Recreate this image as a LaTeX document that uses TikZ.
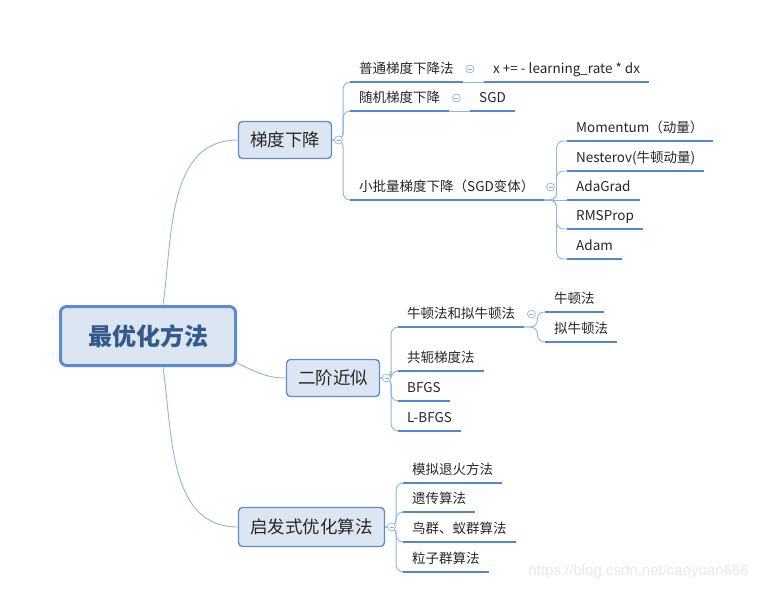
\documentclass[tikz,border=0pt]{standalone}
\usepackage{fontspec}
\setmainfont{Noto Sans CJK SC}
\newfontfamily\wmfont{Liberation Sans}
\usetikzlibrary{positioning}
\definecolor{boxline}{HTML}{5B8CD2}
\definecolor{boxfill}{HTML}{DCE6F2}
\definecolor{twigcol}{HTML}{8DB4E6}
\definecolor{rulecol}{HTML}{5585CC}
\definecolor{roottext}{HTML}{34598A}
\definecolor{inktext}{HTML}{262626}
\begin{document}
\begin{tikzpicture}[x=1pt,y=-1pt,
    root/.style={draw=boxline,fill=boxfill,line width=3pt,rounded corners=6pt,
        minimum width=175pt,minimum height=59pt,text=roottext,
        font=\fontsize{24}{28}\selectfont\bfseries},
    topic/.style={draw=boxline,fill=boxfill,line width=1.3pt,rounded corners=4pt,
        minimum width=93pt,minimum height=37pt,text=inktext,
        font=\fontsize{17.5}{20}\selectfont},
    leaf/.style={anchor=south west,inner xsep=9pt,inner ysep=4pt,text depth=4pt,
        text=inktext,font=\fontsize{13.5}{16}\selectfont},
    underrule/.style={draw=rulecol,line width=2.4pt},
    twigline/.style={draw=twigcol,line width=0.9pt},
    branch/.style={twigline,rounded corners=7pt},
    fold/.style={circle,draw=twigcol,fill=white,line width=0.7pt,
        minimum size=8pt,inner sep=0pt,
        path picture={\draw[twigcol,line width=0.7pt]
            ([xshift=2pt]path picture bounding box.west) --
            ([xshift=-2pt]path picture bounding box.east);}}]
    \useasboundingbox (0,0) rectangle (766,590);

    \node[root] (opt) at (148,336) {最优化方法};
    \node[topic] (gd) at (285,140) {梯度下降};
    \node[topic] (so) at (333,378) {二阶近似};
    \node[topic,minimum width=146pt,minimum height=39pt] (hs) at (311.5,527) {启发式优化算法};

    \draw[twigline] ([xshift=15pt]opt.north) to[out=82,in=180] (gd.west);
    \draw[twigline] ([yshift=-27pt]opt.east) to[out=-25,in=180] (so.west);
    \draw[twigline] ([xshift=15pt]opt.south) to[out=-82,in=180] (hs.west);

    \node[leaf] (gd1) at (350,82) {普通梯度下降法};
    \node[leaf] (gd1x) at (484,82) {x += - learning\_rate * dx};
    \node[leaf] (gd2) at (350,111) {随机梯度下降};
    \node[leaf] (gd2x) at (470,111) {SGD};
    \node[leaf] (gd3) at (350,200) {小批量梯度下降（SGD变体）};
    \foreach \name/\y/\txt in {mb1/141/{Momentum（动量）},mb2/171/{Nesterov(牛顿动量)},
        mb3/200/AdaGrad,mb4/229/RMSProp,mb5/259/Adam}
        \node[leaf] (\name) at (567,\y) {\txt};

    \node[leaf] (nt1) at (398,327) {牛顿法和拟牛顿法};
    \node[leaf] (nt1a) at (545,312) {牛顿法};
    \node[leaf] (nt1b) at (545,342) {拟牛顿法};
    \node[leaf] (nt2) at (398,371) {共轭梯度法};
    \node[leaf] (nt3) at (398,401) {BFGS};
    \node[leaf] (nt4) at (398,431) {L-BFGS};

    \node[leaf] (hs1) at (403,483) {模拟退火方法};
    \node[leaf] (hs2) at (403,512) {遗传算法};
    \node[leaf] (hs3) at (403,542) {鸟群、蚁群算法};
    \node[leaf] (hs4) at (403,572) {粒子群算法};

    \foreach \n in {gd1,gd2,gd3}
        \draw[branch] (gd.east) -- ++(11,0) |- (\n.south west);
    \foreach \n in {nt1,nt2,nt3,nt4}
        \draw[branch] (so.east) -- ++(11,0) |- (\n.south west);
    \foreach \n in {hs1,hs2,hs3,hs4}
        \draw[branch] (hs.east) -- ++(11,0) |- (\n.south west);
    \foreach \n in {mb1,mb2,mb4,mb5}
        \draw[branch] (gd3.south east) -- ++(13,0) |- (\n.south west);
    \draw[twigline] (gd3.south east) -- (mb3.south west);
    \foreach \n in {nt1a,nt1b}
        \draw[branch] (nt1.south east) -- ++(13,0) |- (\n.south west);
    \draw[twigline] (gd1.south east) -- (gd1x.south west);
    \draw[twigline] (gd2.south east) -- (gd2x.south west);

    \foreach \n in {gd1,gd1x,gd2,gd2x,gd3,mb1,mb2,mb3,mb4,mb5,
        nt1,nt1a,nt1b,nt2,nt3,nt4,hs1,hs2,hs3,hs4}
        \draw[underrule] (\n.south west) -- (\n.south east);

    \node[fold,right=2pt of gd] (gdf) {};
    \node[fold,right=2pt of so] (sof) {};
    \node[fold,right=2pt of hs] (hsf) {};
    \foreach \n in {gd1,gd2,gd3,nt1}
        \node[fold] (\n f) at ([shift={(7pt,13pt)}]\n.south east) {};

    \node[anchor=west,text=black!9,font=\wmfont\fontsize{15}{17}\selectfont]
        (mark) at (525,572) {https://blog.csdn.net/caoyuan666};
\end{tikzpicture}
\end{document}
